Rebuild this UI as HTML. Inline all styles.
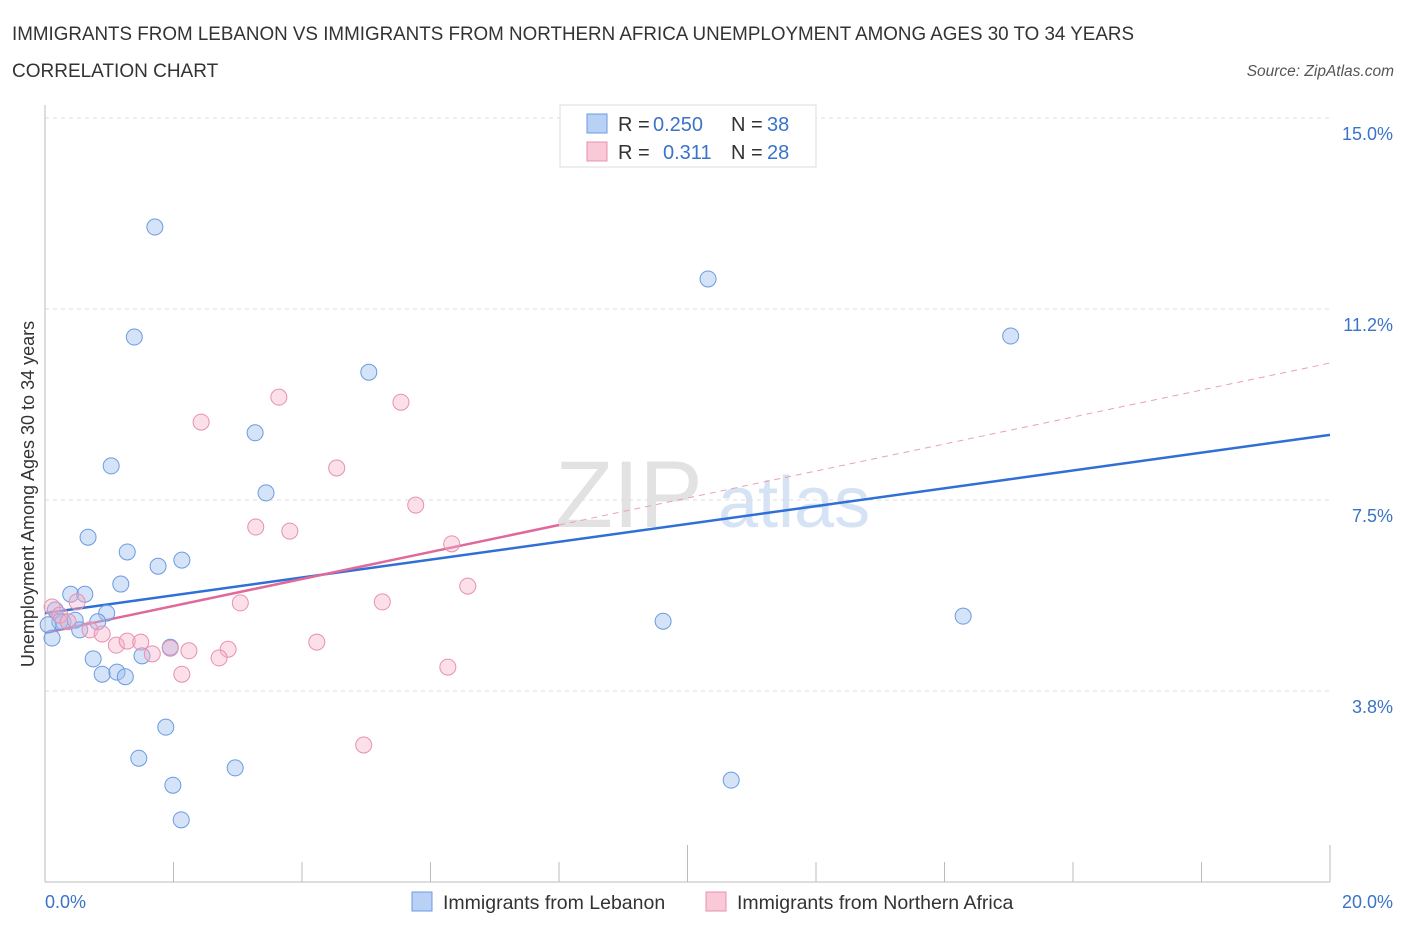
<!DOCTYPE html>
<html><head><meta charset="utf-8">
<style>
body{margin:0;background:#fff;font-family:"Liberation Sans",sans-serif;}
svg text{font-family:"Liberation Sans",sans-serif;}
</style></head>
<body>
<svg id="chart" width="1406" height="930" viewBox="0 0 1406 930" xmlns="http://www.w3.org/2000/svg">
<text x="12" y="40" font-size="19" fill="#333" textLength="1122" lengthAdjust="spacingAndGlyphs">IMMIGRANTS FROM LEBANON VS IMMIGRANTS FROM NORTHERN AFRICA UNEMPLOYMENT AMONG AGES 30 TO 34 YEARS</text>
<text x="12" y="77" font-size="19" fill="#333">CORRELATION CHART</text>
<text x="1394" y="76" font-size="15.5" fill="#555" font-style="italic" text-anchor="end">Source: ZipAtlas.com</text>
<text x="555" y="527" font-size="95" fill="#e2e2e2" font-family="Liberation Serif">ZIP</text>
<text x="718" y="527" font-size="72" fill="#d5e3f5">atlas</text>
<g id="grid"></g>
<g id="axes"></g>
<g id="trends"></g>
<g id="points"></g>
<text transform="translate(34,494) rotate(-90)" font-size="18" fill="#333" text-anchor="middle">Unemployment Among Ages 30 to 34 years</text>
<text x="45" y="908" font-size="18" fill="#3a73c8">0.0%</text>
<text x="1393" y="908" font-size="18" fill="#3a73c8" text-anchor="end">20.0%</text>
<g>
<rect x="560" y="105" width="256" height="62" fill="#fff" stroke="#ddd"/>
<rect x="587" y="114" width="20" height="19" fill="#b9d1f5" stroke="#6a9be0"/>
<rect x="587" y="142" width="20" height="19" fill="#f9c9d8" stroke="#e890b0"/>
<text x="618" y="131" font-size="20" fill="#333">R =</text>
<text x="653" y="131" font-size="20" fill="#3a73c8">0.250</text>
<text x="731" y="131" font-size="20" fill="#333">N =</text>
<text x="767" y="131" font-size="20" fill="#3a73c8">38</text>
<text x="618" y="159" font-size="20" fill="#333">R =</text>
<text x="663" y="159" font-size="20" fill="#3a73c8">0.311</text>
<text x="731" y="159" font-size="20" fill="#333">N =</text>
<text x="767" y="159" font-size="20" fill="#3a73c8">28</text>
</g>
<g>
<rect x="412" y="892" width="20" height="19" fill="#b9d1f5" stroke="#6a9be0"/>
<text x="443" y="909" font-size="19.5" fill="#333">Immigrants from Lebanon</text>
<rect x="706" y="892" width="20" height="19" fill="#f9c9d8" stroke="#e890b0"/>
<text x="737" y="909" font-size="19.5" fill="#333">Immigrants from Northern Africa</text>
</g>
</svg>
<script>
const yTicks=[3.75,7.5,11.25,15];
const yTickLabels=["3.8%","7.5%","11.2%","15.0%"];
const xTicks=[0,2,4,6,8,10,12,14,16,18,20];
const lebX=[1.71,1.39,10.32,15.03,5.04,3.27,1.03,3.44,0.67,1.28,2.13,1.76,1.18,0.40,0.62,0.96,0.16,0.28,0.47,0.82,0.54,0.11,0.75,1.51,1.95,0.89,1.12,1.25,9.62,14.29,1.88,1.46,2.96,1.99,10.68,2.12,0.23,0.05];
const lebY=[12.86,10.70,11.84,10.72,10.01,8.82,8.17,7.64,6.77,6.48,6.32,6.20,5.85,5.65,5.65,5.28,5.34,5.11,5.14,5.11,4.95,4.79,4.38,4.44,4.61,4.08,4.12,4.03,5.12,5.22,3.04,2.43,2.24,1.90,2.00,1.22,5.11,5.05];
const nafX=[3.64,2.43,5.54,4.54,5.77,3.28,3.81,6.33,6.58,3.04,5.25,0.11,0.50,0.23,0.36,0.70,0.89,1.11,1.28,1.49,1.67,1.95,2.24,2.85,2.71,2.13,4.23,6.27,4.96];
const nafY=[9.52,9.03,9.42,8.13,7.40,6.97,6.89,6.64,5.81,5.48,5.50,5.40,5.50,5.24,5.11,4.95,4.87,4.65,4.73,4.71,4.48,4.59,4.54,4.57,4.40,4.08,4.71,4.22,2.69];
const lebTrend=[5.28,8.78];
const nafTrend=[4.89,10.19];
const nafSolidEnd=8;
const NS="http://www.w3.org/2000/svg";
const X=v=>45+v*64.25, Y=v=>882-v*50.93;
function mk(tag,attrs,parent){const e=document.createElementNS(NS,tag);for(const k in attrs)e.setAttribute(k,attrs[k]);document.getElementById(parent).appendChild(e);return e;}
yTicks.forEach((t,i)=>{
 const l=mk('line',{x1:45,x2:1330,y1:Y(t),y2:Y(t),stroke:'#ddd','stroke-dasharray':'4,4'},'grid');
 
 
 const tx=mk('text',{x:1393,y:Y(t)+22,'font-size':18,fill:'#3a73c8','text-anchor':'end'},'grid');
 tx.textContent=yTickLabels[i];
 
 
});
const ax=mk('line',{x1:45,x2:45,y1:105,y2:882,stroke:'#bbb'},'axes');


const bx=mk('line',{x1:45,x2:1330,y1:882,y2:882,stroke:'#bbb'},'axes');


xTicks.forEach(t=>{
 const k=mk('line',{x1:X(t),x2:X(t),y1:(t%10==0?845:862),y2:882,stroke:'#bbb'},'axes');
 
 
});
const lt=mk('line',{x1:X(0),y1:Y(lebTrend[0]),x2:X(20),y2:Y(lebTrend[1]),stroke:'#2f6fd6','stroke-width':2.5},'trends');


const ny=v=>nafTrend[0]+(nafTrend[1]-nafTrend[0])*v/20;
const nd=mk('line',{x1:X(nafSolidEnd),y1:Y(ny(nafSolidEnd)),x2:X(20),y2:Y(nafTrend[1]),stroke:'#e8a0b8','stroke-width':1,'stroke-dasharray':'6,5'},'trends');


const ns=mk('line',{x1:X(0),y1:Y(nafTrend[0]),x2:X(nafSolidEnd),y2:Y(ny(nafSolidEnd)),stroke:'#e0699a','stroke-width':2.5},'trends');


lebX.forEach((x,i)=>{
 const c=mk('circle',{cx:X(x),cy:Y(lebY[i]),r:8,fill:'rgba(160,192,240,0.45)',stroke:'#6a9be0','stroke-width':1},'points');
 
 
});
nafX.forEach((x,i)=>{
 const c=mk('circle',{cx:X(x),cy:Y(nafY[i]),r:8,fill:'rgba(246,175,200,0.4)',stroke:'#e890b0','stroke-width':1},'points');
 
 
});
</script>
</body></html>
